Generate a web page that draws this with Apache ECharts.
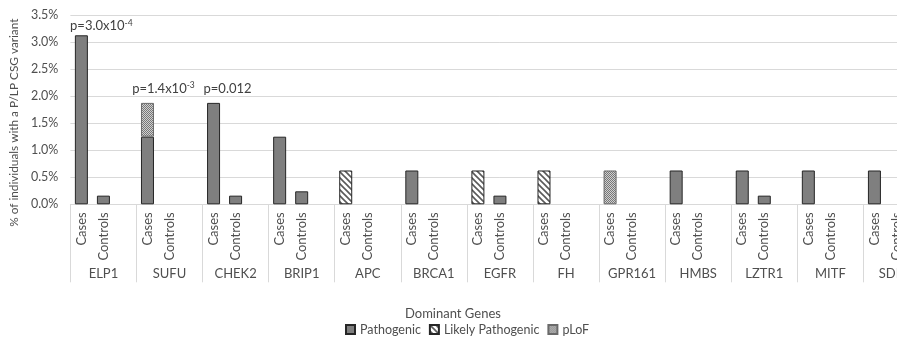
<!DOCTYPE html>
<html>
<head>
<meta charset="utf-8">
<script src="https://cdn.jsdelivr.net/npm/echarts@6/dist/echarts.min.js"></script>
<style>
  html, body { margin: 0; padding: 0; background: #fff; overflow: hidden; }
  #chart { width: 940px; height: 338px; }
</style>
</head>
<body>
<div id="chart"></div>
<script>
// Genes and the sub-groups shown under each one
const genes = ['ELP1', 'SUFU', 'CHEK2', 'BRIP1', 'APC', 'BRCA1', 'EGFR', 'FH', 'GPR161', 'HMBS', 'LZTR1', 'MITF', 'SDHB'];
const subGroups = ['Cases', 'Controls', ''];

// Percent of individuals carrying a variant, per gene
const pathogenicCases      = [3.125, 1.25, 1.875, 1.25, 0, 0.625, 0, 0, 0, 0.625, 0.625, 0.625, 0.625];
const pathogenicControls   = [0.16, 0, 0.16, 0.24, 0, 0, 0.16, 0, 0, 0, 0.16, 0, 0];
const likelyPathCases      = [0, 0, 0, 0, 0.625, 0, 0.625, 0.625, 0, 0, 0, 0, 0];
const likelyPathControls   = [0, 0, 0, 0, 0, 0, 0, 0, 0, 0, 0, 0, 0];
const plofCases            = [0, 0.625, 0, 0, 0, 0, 0, 0, 0.625, 0, 0, 0, 0];
const plofControls         = [0, 0, 0, 0, 0, 0, 0, 0, 0, 0, 0, 0, 0];

// Significance notes above the case bars: [base, exponent]
const pNotes = { ELP1: ['p=3.0x10', '-4'], SUFU: ['p=1.4x10', '-3'], CHEK2: ['p=0.012', ''] };

const yTicks = { min: 0, max: 3.5, step: 0.5 };

const TEXT = '#4f4f4f';
const FONT = 'Lato, "Open Sans", sans-serif';

// Category keys like "ELP1|Cases"
const categories = [];
genes.forEach(g => subGroups.forEach(s => categories.push(g + '|' + s)));

function makeHatch() {
  const c = document.createElement('canvas');
  c.width = 6; c.height = 6;
  const ctx = c.getContext('2d');
  ctx.fillStyle = '#ffffff';
  ctx.fillRect(0, 0, 6, 6);
  ctx.strokeStyle = '#5a5a5a';
  ctx.lineWidth = 1.6;
  ctx.beginPath();
  ctx.moveTo(-1, -1); ctx.lineTo(7, 7);
  ctx.moveTo(-7, -1); ctx.lineTo(1, 7);
  ctx.moveTo(5, -1); ctx.lineTo(13, 7);
  ctx.stroke();
  return c;
}

function makeStipple() {
  const c = document.createElement('canvas');
  c.width = 2; c.height = 2;
  const ctx = c.getContext('2d');
  ctx.fillStyle = '#d0d0d0';
  ctx.fillRect(0, 0, 2, 2);
  ctx.fillStyle = '#777777';
  ctx.fillRect(0, 0, 1, 1);
  ctx.fillRect(1, 1, 1, 1);
  return c;
}

const pLabelOffsets = { ELP1: [20, 2], SUFU: [16, -3], CHEK2: [14, -3] };

function buildData(cases, controls, topSeries) {
  const out = [];
  genes.forEach((g, i) => {
    const vCase = cases[i] > 0 ? cases[i] : '-';
    let item = vCase;
    if (topSeries && topSeries[i] && pNotes[g] && cases[i] > 0) {
      const [base, exp] = pNotes[g];
      item = {
        value: cases[i],
        label: {
          show: true,
          position: 'top',
          distance: 4,
          offset: pLabelOffsets[g],
          formatter: exp ? '{b|' + base + '}{s|' + exp + '}' : '{b|' + base + '}',
          rich: {
            b: { fontSize: 13, color: '#404040', fontFamily: FONT, lineHeight: 15 },
            s: { fontSize: 8.5, color: '#404040', fontFamily: FONT, lineHeight: 9, verticalAlign: 'top' }
          }
        }
      };
    }
    out.push(item);
    out.push(controls[i] > 0 ? controls[i] : '-');
    out.push('-');
  });
  return out;
}

// Which stacked series is the highest one on each gene's case bar
const topIsPath = genes.map((g, i) => likelyPathCases[i] === 0 && plofCases[i] === 0);
const topIsLP   = genes.map((g, i) => likelyPathCases[i] > 0 && plofCases[i] === 0);
const topIsPlof = genes.map((g, i) => plofCases[i] > 0);

const border = { borderColor: '#262626', borderWidth: 1 };

const chart = echarts.init(document.getElementById('chart'), null, { renderer: 'canvas' });
chart.setOption({
  animation: false,
  textStyle: { fontFamily: FONT },
  title: {
    text: 'Dominant Genes',
    left: 400, top: 302,
    textStyle: { fontSize: 13, fontWeight: 'normal', color: TEXT, fontFamily: FONT }
  },
  legend: {
    left: 340, top: 318,
    icon: 'rect',
    itemWidth: 9, itemHeight: 9, itemGap: 8,
    textStyle: { fontSize: 12.5, color: TEXT, fontFamily: FONT }
  },
  grid: { left: 64, top: 15, width: 865.5, height: 189.3, containLabel: false },
  xAxis: [
    {
      type: 'category',
      data: categories,
      axisLine: { lineStyle: { color: '#d9d9d9' } },
      axisTick: { show: false },
      axisLabel: {
        interval: 0, rotate: 90, margin: 8,
        color: TEXT, fontSize: 13, fontFamily: FONT,
        formatter: v => v.split('|')[1]
      }
    },
    {
      type: 'category',
      data: genes,
      position: 'bottom',
      axisLine: { show: false },
      axisTick: { show: true, interval: 0, length: 78, lineStyle: { color: '#d9d9d9' } },
      axisLabel: { interval: 0, margin: 63, color: TEXT, fontSize: 13, fontFamily: FONT }
    }
  ],
  yAxis: {
    type: 'value',
    min: yTicks.min, max: yTicks.max, interval: yTicks.step,
    axisLine: { show: false },
    axisTick: { show: false },
    splitLine: { lineStyle: { color: '#d9d9d9' } },
    axisLabel: { color: TEXT, fontSize: 12.5, margin: 12, fontFamily: FONT, formatter: v => v.toFixed(1) + '%' },
    name: '% of individuals with a P/LP CSG variant',
    nameLocation: 'middle',
    nameGap: 46,
    nameTextStyle: { color: TEXT, fontSize: 11.8, fontFamily: FONT, padding: [0, 26, 0, 0] }
  },
  series: [
    {
      name: 'Pathogenic', type: 'bar', stack: 'v', barWidth: 13, xAxisIndex: 0,
      itemStyle: Object.assign({ color: '#7f7f7f' }, border),
      data: buildData(pathogenicCases, pathogenicControls, topIsPath)
    },
    {
      name: 'Likely Pathogenic', type: 'bar', stack: 'v', barWidth: 13, xAxisIndex: 0,
      itemStyle: Object.assign({ color: { image: makeHatch(), repeat: 'repeat' } }, border),
      data: buildData(likelyPathCases, likelyPathControls, topIsLP)
    },
    {
      name: 'pLoF', type: 'bar', stack: 'v', barWidth: 13, xAxisIndex: 0,
      itemStyle: Object.assign({ color: { image: makeStipple(), repeat: 'repeat' } }, { borderColor: '#6a6a6a', borderWidth: 1 }),
      data: buildData(plofCases, plofControls, topIsPlof)
    }
  ]
});
</script>
</body>
</html>
